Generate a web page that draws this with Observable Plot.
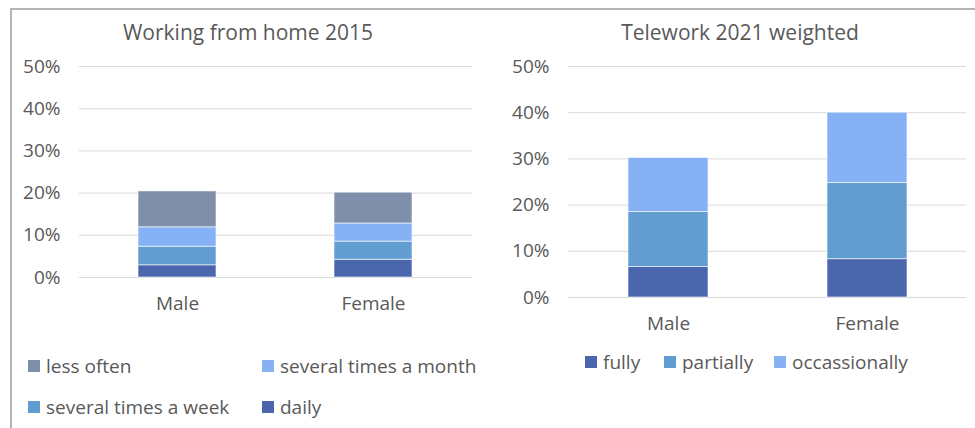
<!DOCTYPE html>
<html><head><meta charset="utf-8">
<script src="https://cdn.jsdelivr.net/npm/d3@7"></script>
<script src="https://cdn.jsdelivr.net/npm/@observablehq/plot@0.6"></script>
<style>
body{margin:0;background:#fff;}
#wrap{position:relative;width:975px;height:428px;overflow:hidden;font-family:"Open Sans",sans-serif;color:#595959;background:#fff;}
.frame{position:absolute;left:10px;top:8px;width:975px;height:430px;border-top:2px solid #b3b3b3;border-left:2px solid #b3b3b3;box-sizing:border-box;}
.title{position:absolute;top:17px;font-size:21px;line-height:30px;transform:translateX(-50%);white-space:nowrap;}
.chart{position:absolute;}
.leg{position:absolute;font-size:19px;line-height:24px;white-space:nowrap;display:flex;align-items:center;}
.leg i{display:inline-block;width:12px;height:12px;margin-right:6px;}
</style></head><body>
<div id="wrap">
  <div class="frame"></div>
  <div class="title" style="left:248px">Working from home 2015</div>
  <div class="title" style="left:740px">Telework 2021 weighted</div>
  <div class="chart" id="c1" style="left:0;top:50px"></div>
  <div class="chart" id="c2" style="left:490px;top:50px"></div>
  <div id="legends"></div>
</div>
<script>
const genders = ["Male", "Female"];
const yTicks = [0, 10, 20, 30, 40, 50];

// Working from home 2015 (% of workers), bottom to top
const series2015 = ["daily", "several times a week", "several times a month", "less often"];
const daily2015 = [2.9, 4.2];
const severalWeek2015 = [4.4, 4.3];
const severalMonth2015 = [4.6, 4.3];
const lessOften2015 = [8.5, 7.3];

// Telework 2021 weighted (% of workers), bottom to top
const series2021 = ["fully", "partially", "occassionally"];
const fully2021 = [6.6, 8.3];
const partially2021 = [11.9, 16.5];
const occasionally2021 = [11.7, 15.2];

const colors2015 = ["#4A66AC", "#629DD1", "#86B1F5", "#7F8FA9"];
const colors2021 = ["#4A66AC", "#629DD1", "#86B1F5"];

const legendOrder2015 = ["less often", "several times a month", "several times a week", "daily"];
const legendOrder2021 = ["fully", "partially", "occassionally"];

function rows(seriesNames, valueArrays) {
  const out = [];
  seriesNames.forEach((s, i) => {
    genders.forEach((g, j) => out.push({gender: g, series: s, value: valueArrays[i][j]}));
  });
  return out;
}
const rows2015 = rows(series2015, [daily2015, severalWeek2015, severalMonth2015, lessOften2015]);
const rows2021 = rows(series2021, [fully2021, partially2021, occasionally2021]);

function chart(data, seriesNames, colors, opts) {
  return Plot.plot({
    width: opts.width, height: opts.height,
    marginTop: opts.marginTop, marginBottom: opts.marginBottom,
    marginLeft: opts.marginLeft, marginRight: opts.marginRight,
    style: {fontFamily: "Open Sans, sans-serif", fontSize: "19px", color: "#595959", background: "transparent", overflow: "visible"},
    x: {domain: genders, paddingInner: 0.6, paddingOuter: 0.3, label: null},
    y: {domain: [0, 50], label: null},
    color: {domain: seriesNames, range: colors},
    marks: [
      Plot.ruleY(yTicks, {stroke: "#d9d9d9", strokeWidth: 1}),
      Plot.barY(data, {x: "gender", y: "value", fill: "series", stroke: "#ffffff", strokeOpacity: 0.6, strokeWidth: 1}),
      Plot.axisY({ticks: yTicks, tickSize: 0, tickPadding: 19, tickFormat: d => d + "%", label: null}),
      Plot.axisX({tickSize: 0, tickPadding: 19, label: null})
    ]
  });
}

document.getElementById("c1").appendChild(chart(rows2015, series2015, colors2015,
  {width: 490, height: 280, marginTop: 16, marginBottom: 53, marginLeft: 79, marginRight: 18}));
document.getElementById("c2").appendChild(chart(rows2021, series2021, colors2021,
  {width: 485, height: 300, marginTop: 16, marginBottom: 53, marginLeft: 78, marginRight: 9}));

// legends
const legWrap = document.getElementById("legends");
const color2015 = name => colors2015[series2015.indexOf(name)];
const color2021 = name => colors2021[series2021.indexOf(name)];
const legPos2015 = [[28, 354], [262, 354], [28, 395], [262, 395]];
legendOrder2015.forEach((name, i) => {
  const d = document.createElement("div");
  d.className = "leg";
  d.style.left = legPos2015[i][0] + "px";
  d.style.top = legPos2015[i][1] + "px";
  d.innerHTML = `<i style="background:${color2015(name)}"></i>${name}`;
  legWrap.appendChild(d);
});
const legPos2021 = [585, 664, 774];
legendOrder2021.forEach((name, i) => {
  const d = document.createElement("div");
  d.className = "leg";
  d.style.left = legPos2021[i] + "px";
  d.style.top = "350px";
  d.innerHTML = `<i style="background:${color2021(name)}"></i>${name}`;
  legWrap.appendChild(d);
});
</script>
</body></html>
